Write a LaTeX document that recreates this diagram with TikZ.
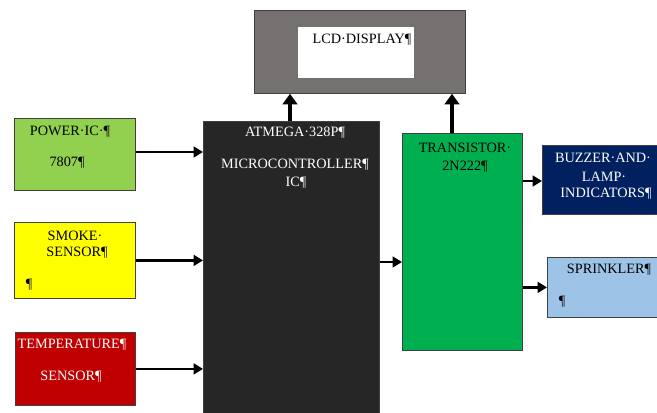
\documentclass[tikz,border=0pt]{standalone}
\usepackage{fontspec}
\setmainfont{Liberation Serif}
\usetikzlibrary{arrows.meta, positioning}
\definecolor{cLcd}{RGB}{118,113,113}
\definecolor{cPower}{RGB}{146,208,80}
\definecolor{cSmoke}{RGB}{255,255,0}
\definecolor{cTemp}{RGB}{192,0,0}
\definecolor{cMcu}{RGB}{38,38,38}
\definecolor{cTrans}{RGB}{0,176,80}
\definecolor{cBuzz}{RGB}{0,32,96}
\definecolor{cSprink}{RGB}{157,195,230}
\newcommand{\px}{0.75pt}
\tikzset{
  blk/.style={draw=black!75, line width=0.6pt, inner sep=0pt, anchor=north west},
  txt/.style={inner sep=0pt, font=\fontsize{10.7}{12}\selectfont},
  conn/.style={line width=1.9pt, -{Triangle[length=7pt, width=8pt]}},
  bigconn/.style={line width=3.6pt, -{Triangle[length=8pt, width=11pt]}}
}
\begin{document}
\begin{tikzpicture}[x=0.75pt, y=-0.75pt]
  \useasboundingbox (0,0) rectangle (657,412);
  % display
  \node[blk, fill=cLcd, minimum width=211*\px, minimum height=83*\px] (lcd) at (254,10) {};
  \node[blk, fill=white, draw=none, minimum width=116*\px, minimum height=51*\px] (lcdin) at (298,27) {};
  \node[txt] (lcdt) at (362,40) {LCD·DISPLAY¶};
  % inputs
  \node[blk, fill=cPower, minimum width=121*\px, minimum height=72*\px] (power) at (14,118) {};
  \node[txt] (powert) at (70,132) {POWER·IC·¶};
  \node[txt] (powerv) at (67,163) {7807¶};
  \node[blk, fill=cSmoke, minimum width=121*\px, minimum height=76*\px] (smoke) at (14,222) {};
  \node[txt] (smoket) at (75,236) {SMOKE·};
  \node[txt] (smokes) at (77,253) {SENSOR¶};
  \node[txt] (smokep) at (29,285) {¶};
  \node[blk, fill=cTemp, minimum width=120*\px, minimum height=73*\px] (temp) at (15,332) {};
  \node[txt, white] (tempt) at (72,345) {TEMPERATURE¶};
  \node[txt, white] (temps) at (71,377) {SENSOR¶};
  % controller
  \node[blk, fill=cMcu, minimum width=176*\px, minimum height=300*\px] (mcu) at (203,121) {};
  \node[txt, white] (mcut) at (295,133) {ATMEGA·328P¶};
  \node[txt, white] (mcum) at (295,165) {MICROCONTROLLER¶};
  \node[txt, white] (mcui) at (296,183) {IC¶};
  % driver and outputs
  \node[blk, fill=cTrans, minimum width=120*\px, minimum height=217*\px] (trans) at (402,133) {};
  \node[txt] (transt) at (465,148) {TRANSISTOR·};
  \node[txt] (transn) at (465,167) {2N222¶};
  \node[blk, fill=cBuzz, minimum width=118*\px, minimum height=69*\px] (buzz) at (542,145) {};
  \node[txt, white] (buzzt) at (603,158) {BUZZER·AND·};
  \node[txt, white] (buzzl) at (604,177) {LAMP·};
  \node[txt, white] (buzzi) at (606,194) {INDICATORS¶};
  \node[blk, fill=cSprink, minimum width=115*\px, minimum height=60*\px] (sprink) at (547,257) {};
  \node[txt] (sprinkt) at (609,270) {SPRINKLER¶};
  \node[txt] (sprinkp) at (562,302) {¶};
  % connectors
  \draw[conn] (power.east |- 0,152) -- (mcu.west |- 0,152);
  \draw[conn] (smoke.east) -- (smoke.east -| mcu.west);
  \draw[conn] (temp.east) -- (temp.east -| mcu.west);
  \draw[conn] (mcu.east |- 0,262) -- (trans.west |- 0,262);
  \draw[conn] (trans.east |- 0,181) -- (buzz.west |- 0,181);
  \draw[conn] (trans.east |- sprink.west) -- (sprink.west);
  \draw[bigconn] (mcu.north -| 290,0) -- (lcd.south -| 290,0);
  \draw[bigconn] (trans.north -| 452,0) -- (lcd.south -| 452,0);
\end{tikzpicture}
\end{document}
